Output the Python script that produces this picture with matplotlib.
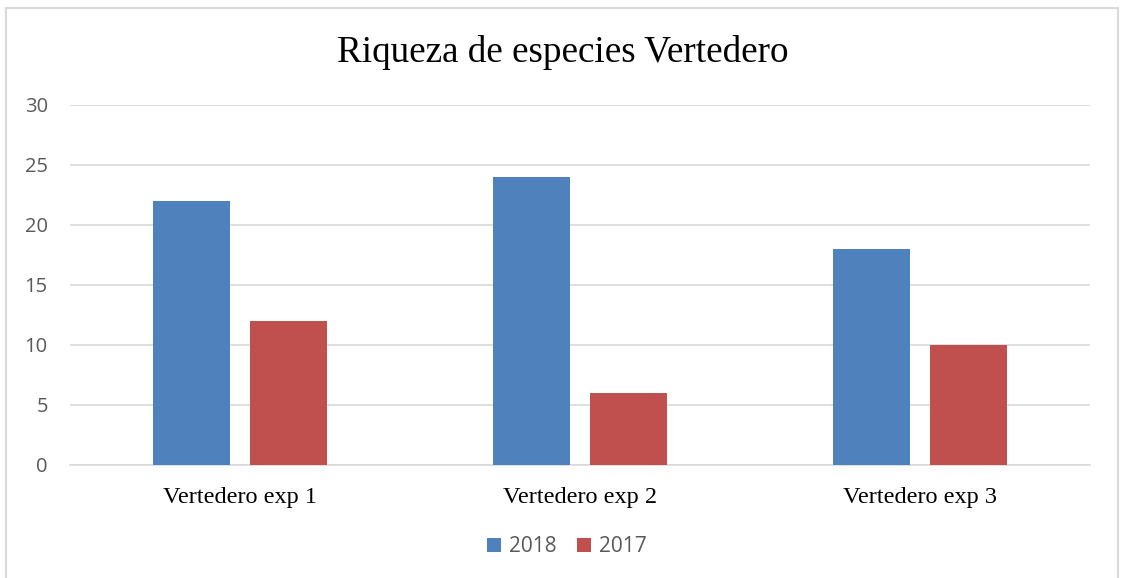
import numpy as np
from matplotlib import pyplot as plt
from matplotlib.patches import Rectangle

categories = ["Vertedero exp 1", "Vertedero exp 2", "Vertedero exp 3"]
values_2018 = [22, 24, 18]
values_2017 = [12, 6, 10]
series_names = ["2018", "2017"]
y_ticks = [0, 5, 10, 15, 20, 25, 30]

W, H = 1121, 578
fig = plt.figure(figsize=(W / 100, H / 100), dpi=100)

# outer frame of the chart
fig.patches.append(Rectangle((6 / W, -0.01), (1118 - 6) / W, (H - 8) / H + 0.01,
                             transform=fig.transFigure, fill=False,
                             edgecolor="#d9d9d9", linewidth=1.5))

ax = fig.add_axes([70 / W, (H - 465) / H, (1090 - 70) / W, (465 - 105) / H])

x = np.arange(len(categories))
bw = 0.227
gap = 0.059
ax.bar(x - (bw + gap) / 2, values_2018, bw, color="#4F81BD", label=series_names[0], zorder=3)
ax.bar(x + (bw + gap) / 2, values_2017, bw, color="#C0504D", label=series_names[1], zorder=3)

ax.set_xlim(-0.5, len(categories) - 0.5)
ax.set_ylim(0, 30)
ax.set_yticks(y_ticks)
ax.set_yticklabels([str(v) for v in y_ticks], fontsize=14.5, color="#595959", family="Open Sans")
ax.set_xticks(x)
ax.set_xticklabels(categories, fontsize=17.5, family="Liberation Serif", color="black")
ax.tick_params(axis="both", length=0)
ax.tick_params(axis="x", pad=16)
ax.tick_params(axis="y", pad=16)
ax.grid(axis="y", color="#d9d9d9", linewidth=1.2, zorder=0)
for s in ["top", "right", "left"]:
    ax.spines[s].set_visible(False)
ax.spines["bottom"].set_color("#d9d9d9")
ax.spines["bottom"].set_linewidth(1.2)

fig.text(563 / W, 1 - 53 / H, "Riqueza de especies Vertedero", ha="center", va="center",
         fontsize=26.7, family="Liberation Serif")

leg = fig.legend(loc="center", bbox_to_anchor=(567 / W, 1 - 547 / H), ncol=2, frameon=False,
                 prop={"family": "Open Sans", "size": 15}, handlelength=0.65, handleheight=0.65,
                 columnspacing=1.0, handletextpad=0.4)
for t in leg.get_texts():
    t.set_color("#595959")

fig.savefig("out.png", dpi=100)
